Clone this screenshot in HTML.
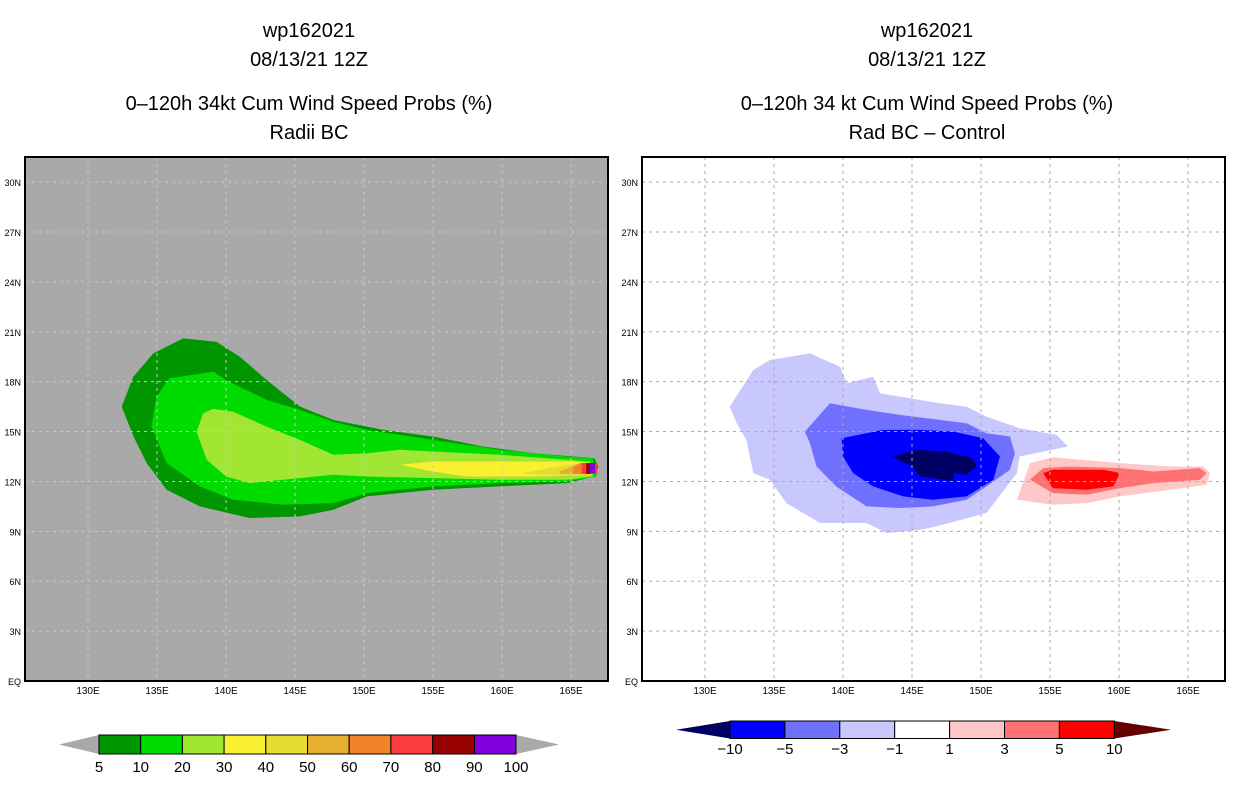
<!DOCTYPE html>
<html><head><meta charset="utf-8"><style>
html,body{margin:0;padding:0;background:#fff;}
svg{display:block;font-family:"Liberation Sans",sans-serif;}
</style></head><body>
<svg id="svg" width="1236" height="800" viewBox="0 0 1236 800" xmlns="http://www.w3.org/2000/svg">
<defs>
<clipPath id="clipL"><rect x="25" y="157" width="583" height="524"/></clipPath>
<clipPath id="clipR"><rect x="642" y="157" width="583" height="524"/></clipPath>
</defs>
<g font-size="20" text-anchor="middle" fill="#000">
<text x="309" y="37">wp162021</text><text x="309" y="66">08/13/21 12Z</text>
<text x="309" y="110">0–120h 34kt Cum Wind Speed Probs (%)</text><text x="309" y="139">Radii BC</text>
</g>
<g font-size="20" text-anchor="middle" fill="#000">
<text x="927" y="37">wp162021</text><text x="927" y="66">08/13/21 12Z</text>
<text x="927" y="110">0–120h 34 kt Cum Wind Speed Probs (%)</text><text x="927" y="139">Rad BC – Control</text>
</g>
<rect x="25" y="157" width="583" height="524" fill="#a9a9a9"/>
<rect x="642" y="157" width="583" height="524" fill="#fff"/>
<g id="left" clip-path="url(#clipL)"></g>
<g id="right" clip-path="url(#clipR)"></g>
<g id="axes"></g>
<g id="cbars"></g>
</svg>
<script>
const NS="http://www.w3.org/2000/svg";
const lonTicks=[130,135,140,145,150,155,160,165];
const latTicks=[0,3,6,9,12,15,18,21,24,27,30];
// left panel contour polygons [lon,lat]
const leftLevels=["5","10","20","30","40","50","60","70","80","90"];
const leftColors=["#009600","#00dc00","#a0e632","#f8f030","#e6dc32","#e6af2d","#f08228","#fa3c3c","#960000","#8200dc"];
const leftPolys=[
[[132.44,16.5],[133.28,18.3],[134.73,19.7],[136.9,20.6],[139.3,20.4],[141.0,19.5],[142.94,18.1],[145.36,16.5],[147.77,15.7],[151.39,15.1],[155.0,14.7],[158.6,14.1],[162.3,13.7],[165.16,13.5],[166.7,13.4],[166.98,12.9],[166.7,12.3],[164.7,11.9],[159.85,11.7],[155.0,11.5],[150.2,11.1],[147.8,10.3],[145.36,9.9],[141.7,9.8],[138.1,10.5],[135.7,11.5],[134.25,13.1],[133.3,14.7]],
[[134.6,15.3],[134.97,17.1],[135.9,18.2],[139.07,18.6],[140.0,18.1],[142.94,16.9],[145.36,16.3],[147.77,15.6],[150.2,15.1],[155.0,14.5],[159.85,13.9],[164.7,13.5],[166.6,13.4],[166.86,12.3],[164.7,12.0],[159.85,11.9],[155.0,11.7],[150.2,11.3],[147.77,10.7],[144.15,10.6],[140.5,10.9],[138.1,11.7],[135.7,13.1]],
[[137.87,15.0],[138.35,16.1],[139.07,16.36],[140.5,16.2],[142.94,15.3],[145.36,14.5],[147.77,13.6],[150.2,13.7],[152.6,13.9],[155.0,13.8],[159.85,13.6],[164.7,13.3],[166.4,13.2],[166.6,12.3],[164.7,12.1],[159.85,12.1],[155.0,12.2],[150.2,12.3],[147.77,12.4],[144.15,12.1],[141.7,11.9],[140.0,12.3],[138.6,13.3]],
[[152.6,13.0],[155.0,13.2],[159.85,13.2],[165.16,13.2],[166.4,13.1],[166.4,12.4],[162.3,12.3],[157.4,12.3],[155.0,12.6]],
[[161.54,12.5],[164.7,13.0],[166.1,13.1],[166.1,12.4],[162.3,12.4]],
[[164.2,12.6],[165.6,13.1],[166.1,13.1],[166.1,12.45],[164.2,12.45]],
[[165.16,12.9],[165.77,13.1],[165.77,12.45],[165.16,12.45]],
[[165.77,13.1],[166.9,13.1],[166.9,12.45],[165.77,12.45]],
[[166.1,13.1],[166.4,13.1],[166.4,12.45],[166.1,12.45]],
[[166.35,13.1],[166.75,13.1],[166.75,12.5],[166.35,12.5]]
];
const rightLevels=["-1","-3","-5","-10","1","3","5"];
const rightColors=["#c8c8ff","#7070ff","#0000ff","#000064","#ffc8c8","#ff7070","#ff0000"];
const rightPolys=[
[[131.8,16.5],[133.5,18.7],[134.7,19.3],[137.6,19.7],[139.78,18.9],[140.26,17.9],[142.19,18.3],[142.68,17.3],[144.13,17.1],[147.0,16.7],[148.96,16.5],[150.4,15.9],[152.8,15.2],[155.48,14.8],[156.3,14.1],[152.8,13.5],[152.6,12.5],[150.4,10.1],[146.8,9.3],[145.6,9.1],[143.16,8.9],[141.7,9.5],[138.33,9.5],[135.9,10.7],[134.7,12.1],[133.5,12.5],[133.0,14.5],[132.3,15.5]],
[[137.24,15.0],[139.05,16.7],[141.7,16.3],[144.13,16.0],[148.96,15.5],[150.4,14.9],[152.1,14.7],[152.46,13.7],[152.1,12.7],[150.4,11.7],[148.96,10.9],[146.5,10.5],[144.13,10.4],[141.7,10.5],[139.5,11.7],[138.09,12.9],[137.6,14.3]],
[[139.9,14.6],[142.9,15.1],[145.57,15.1],[147.99,15.0],[150.16,14.6],[151.37,13.5],[150.9,12.1],[148.96,11.1],[146.5,10.9],[144.37,11.1],[142.19,11.7],[140.74,12.5],[140.0,13.5]],
[[143.6,13.5],[145.3,13.9],[147.5,13.8],[149.4,13.4],[149.68,12.9],[148.96,12.4],[148.0,12.5],[148.1,12.0],[145.6,12.3],[144.97,12.9]],
[[152.6,10.9],[153.55,13.1],[155.2,13.45],[160.07,13.1],[163.7,12.9],[166.1,12.9],[166.6,12.5],[166.35,11.8],[163.7,11.5],[160.07,11.1],[157.65,10.7],[155.2,10.6]],
[[153.55,12.1],[154.5,12.8],[156.45,12.9],[160.07,12.8],[162.48,12.6],[165.86,12.8],[166.35,12.5],[165.86,12.1],[162.48,11.9],[160.07,11.6],[157.65,11.2],[155.2,11.3]],
[[154.5,12.5],[155.2,12.7],[158.86,12.7],[160.07,12.5],[159.58,11.7],[157.65,11.5],[155.2,11.6]]
];
const leftCbLabels=["5","10","20","30","40","50","60","70","80","90","100"];
const rightCbLabels=["−10","−5","−3","−1","1","3","5","10"];
const rightCbColors=["#0000ff","#7070ff","#c8c8ff","#ffffff","#ffc8c8","#ff7070","#ff0000"];

function xs(lon,x0){return x0+(lon-130)*13.8;}
function ys(lat){return 681-lat*16.63;}
function mk(t,a,p){const e=document.createElementNS(NS,t);for(const k in a)e.setAttribute(k,a[k]);p.appendChild(e);return e;}

function drawPanel(gid,x0,polys,colors,levels){
  const g=document.getElementById(gid);
  polys.forEach((poly,i)=>{
    const pts=poly.map(p=>xs(p[0],x0+63).toFixed(1)+","+ys(p[1]).toFixed(1)).join(" ");
    const e=mk("polygon",{points:pts,fill:colors[i]},g);
    
    
  });
}
drawPanel("left",25,leftPolys,leftColors,leftLevels);
drawPanel("right",642,rightPolys,rightColors,rightLevels);

const ax=document.getElementById("axes");
[[25,"#c8c8c8"],[642,"#aaaaaa"]].forEach(([x0,gc],pi)=>{
  const side=pi?"right":"left";
  lonTicks.forEach(l=>{
    const x=xs(l,x0+63);
    const gl=mk("line",{x1:x,x2:x,y1:157,y2:681,stroke:gc,"stroke-width":1,"stroke-dasharray":"3,4"},ax);
    
    
    const t=mk("text",{x:x,y:694,"font-size":10,"text-anchor":"middle"},ax);
    t.textContent=l+"E";
    
    
  });
  latTicks.forEach(l=>{
    const y=ys(l);
    if(l>0&&l<31){
      const gl=mk("line",{x1:x0,x2:x0+583,y1:y,y2:y,stroke:gc,"stroke-width":1,"stroke-dasharray":"3,4"},ax);
      
      
    }
    const t=mk("text",{x:x0-4,y:y+4,"font-size":9,"text-anchor":"end"},ax);
    t.textContent=l===0?"EQ":l+"N";
    
    
  });
  const fr=mk("rect",{x:x0,y:157,width:583,height:524,fill:"none",stroke:"#000","stroke-width":2},ax);
  
  
});

const cb=document.getElementById("cbars");
// left colorbar
(function(){
  const x0=99,w=41.7,y0=735,h=19;
  const l=mk("polygon",{points:`59,${y0+h/2} ${x0},${y0} ${x0},${y0+h}`,fill:"#a9a9a9"},cb);
  
  const r=mk("polygon",{points:`${x0+10*w},${y0} ${559},${y0+h/2} ${x0+10*w},${y0+h}`,fill:"#a9a9a9"},cb);
  
  leftColors.forEach((c,i)=>{
    const b=mk("rect",{x:x0+i*w,y:y0,width:w,height:h,fill:c,stroke:"#000","stroke-width":1},cb);
    
  });
  leftCbLabels.forEach((s,i)=>{
    const t=mk("text",{x:x0+i*w,y:772,"font-size":15,"text-anchor":"middle"},cb);
    t.textContent=s;
    
  });
})();
// right colorbar
(function(){
  const x0=730,w=54.9,y0=721,h=17.5;
  const l=mk("polygon",{points:`676,${y0+h/2} ${x0},${y0} ${x0},${y0+h}`,fill:"#000064"},cb);
  
  const r=mk("polygon",{points:`${x0+7*w},${y0} 1171,${y0+h/2} ${x0+7*w},${y0+h}`,fill:"#640000"},cb);
  
  rightCbColors.forEach((c,i)=>{
    const b=mk("rect",{x:x0+i*w,y:y0,width:w,height:h,fill:c,stroke:"#000","stroke-width":1},cb);
    
  });
  rightCbLabels.forEach((s,i)=>{
    const t=mk("text",{x:x0+i*w,y:754,"font-size":15,"text-anchor":"middle"},cb);
    t.textContent=s;
    
  });
})();
</script>
</body></html>
